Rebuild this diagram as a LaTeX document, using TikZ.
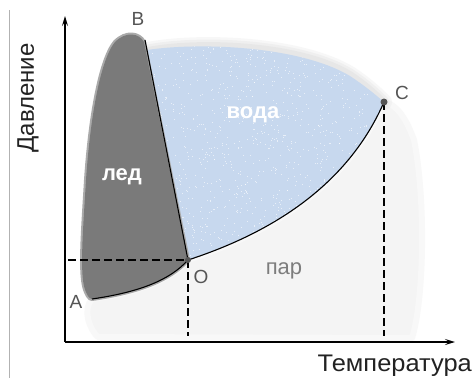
\documentclass[tikz,border=0pt]{standalone}
\usepackage{fontspec}
\setmainfont{Liberation Sans}
\usetikzlibrary{arrows.meta}
\definecolor{icec}{RGB}{122,122,122}
\definecolor{icehalo}{RGB}{170,170,170}
\definecolor{waterc}{RGB}{199,216,238}
\definecolor{waterhalo}{RGB}{225,225,225}
\definecolor{vapc}{RGB}{244,244,244}
\definecolor{lblc}{RGB}{85,85,85}
\definecolor{parc}{RGB}{125,125,125}
\definecolor{titlec}{RGB}{34,34,34}
\tikzset{
  axisline/.style={line width=1.8pt, black, -{Stealth[length=10pt,width=6pt,inset=4pt]}},
  guide/.style={dashed, dash pattern=on 8pt off 4pt, line width=1.1pt, black},
  curveline/.style={line width=1.1pt, black},
  dot/.style={circle, fill=lblc, inner sep=0pt, minimum size=7pt},
  ptlabel/.style={font=\fontsize{19}{19}\selectfont, text=lblc, inner sep=0pt},
  phaselabel/.style={font=\fontsize{22}{22}\selectfont\bfseries, text=white, inner sep=0pt},
  axtitle/.style={font=\fontsize{24}{24}\selectfont, text=titlec, inner sep=0pt}
}
\begin{document}
\begin{tikzpicture}[x=1pt,y=-1pt]
\useasboundingbox[fill=white] (0,0) rectangle (474,378);
% frame line at left
\coordinate (ltop) at (9,10);
\coordinate (lbot) at (9,378);
\draw[line width=1pt, gray!60] (ltop) -- (lbot);
% key points
\coordinate (Op) at (188,260);
\coordinate (Cp) at (384,102);
\coordinate (Ap) at (92,299);
\coordinate (Bp) at (145,40);
% vapour region
\fill[vapc, draw=vapc!60!white, line width=6pt, line join=round]
  (Ap) .. controls (82,310) and (90,330) .. (98,337) -- (412,338)
  .. controls (424,300) and (426,200) .. (414,140)
  .. controls (405,115) and (395,104) .. (Cp)
  .. controls (350,180) and (280,230) .. (Op)
  .. controls (170,280) and (140,292) .. (Ap) -- cycle;
% water region halo (top edge), soft
\foreach \w/\o in {16/0.25,11/0.35,6/0.5}{
\draw[waterhalo, line width=\w pt, line cap=round, opacity=\o]
  (148,50) .. controls (200,40) and (300,44) .. (350,74) .. controls (368,86) and (378,96) .. (Cp);
}
\path[fill=waterc]
  (Op) -- (147,50) .. controls (200,42) and (300,46) .. (350,76)
  .. controls (368,88) and (378,97) .. (Cp)
  .. controls (350,180) and (280,230) .. (Op) -- cycle;
% speckles
\begin{scope}
\clip (Op) -- (147,50) .. controls (200,42) and (300,46) .. (350,76)
  .. controls (368,88) and (378,97) .. (Cp)
  .. controls (350,180) and (280,230) .. (Op) -- cycle;
\pgfmathsetseed{7}
\foreach \i in {1,...,1100}{
  \pgfmathsetmacro\rx{147+240*rnd}
  \pgfmathsetmacro\ry{42+220*rnd}
  \fill[white, opacity=0.6] (\rx,\ry) rectangle ++(1,1);
}
\end{scope}
% ice region
\fill[icec, draw=icehalo, line width=4pt, line join=round]
  (Op) -- (144,42) .. controls (139,33) and (126,31) .. (115,42)
  .. controls (100,60) and (90,120) .. (86,180)
  .. controls (83,230) and (80,268) .. (84,286)
  .. controls (86,294) and (89,299) .. (Ap)
  .. controls (140,292) and (170,280) .. (Op) -- cycle;
\fill[icec]
  (Op) -- (144,42) .. controls (139,33) and (126,31) .. (115,42)
  .. controls (100,60) and (90,120) .. (86,180)
  .. controls (83,230) and (80,268) .. (84,286)
  .. controls (86,294) and (89,299) .. (Ap)
  .. controls (140,292) and (170,280) .. (Op) -- cycle;
% axes
\coordinate (orig) at (65,342);
\coordinate (ytop) at (65,16);
\coordinate (xend) at (455,342);
\draw[axisline] (orig) -- (ytop);
\draw[axisline] (orig) -- (xend);
% guide lines
\coordinate (Oy) at (68,260);
\coordinate (Ox) at (188,336);
\coordinate (Cx) at (384,336);
\draw[guide] (Oy) -- (Op);
\draw[guide] (Op) -- (Ox);
\draw[guide] (Cp) -- (Cx);
% phase curves
\draw[curveline] (Bp) -- (Op);
\draw[curveline] (Ap) .. controls (140,292) and (170,280) .. (Op);
\draw[curveline] (Op) .. controls (280,230) and (350,180) .. (Cp);
% dots
\node[dot, minimum size=6pt] (O) at (Op) {};
\node[dot] (C) at (Cp) {};
% labels
\node[ptlabel] (Blbl) at (138,19) {B};
\node[ptlabel] (Clbl) at (402,93) {C};
\node[ptlabel] (Olbl) at (201,277) {O};
\node[ptlabel] (Albl) at (76,302) {A};
\node[phaselabel] (ice) at (122,177) {лед};
\node[phaselabel] (water) at (253,115) {вода};
\node[font=\fontsize{22}{22}\selectfont, text=parc, inner sep=0pt] (vap) at (284,271) {пар};
\node[axtitle, rotate=90] (ytitle) at (28,98) {Давление};
\node[axtitle, xscale=1.06, anchor=east] (xtitle) at (472,366) {Температура};
\end{tikzpicture}
\end{document}
